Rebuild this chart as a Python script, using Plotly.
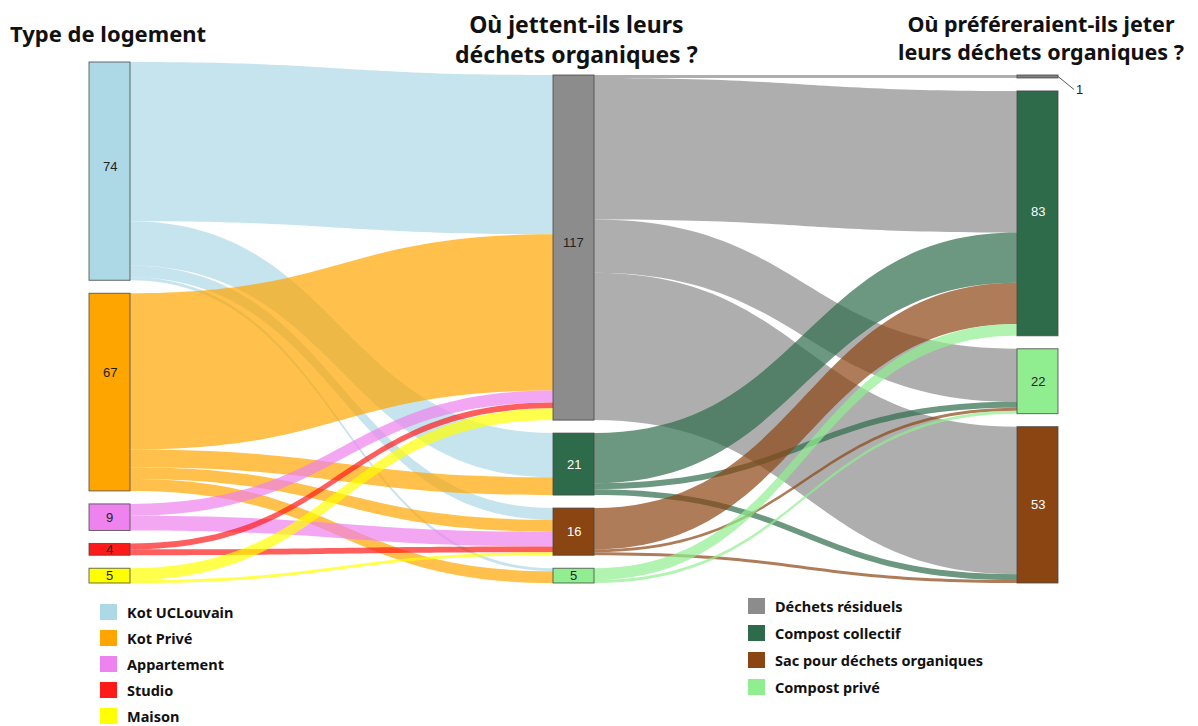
import plotly.graph_objects as go

# ---------------- data ----------------
housing = ["Kot UCLouvain", "Kot Privé", "Appartement", "Studio", "Maison"]
housing_colors = ["#ADD8E6", "#FFA500", "#EE82EE", "#FF1A1A", "#FFFF00"]

current = ["Déchets résiduels", "Compost collectif", "Sac pour déchets organiques", "Compost privé"]
preferred = ["Déchets résiduels", "Compost collectif", "Compost privé", "Sac pour déchets organiques"]
waste_colors = {
    "Déchets résiduels": "#8C8C8C",
    "Compost collectif": "#2E6B4A",
    "Sac pour déchets organiques": "#8B4513",
    "Compost privé": "#90EE90",
}

# housing -> current destination
flow_housing = [
    ("Kot UCLouvain", "Déchets résiduels", 54),
    ("Kot UCLouvain", "Compost collectif", 15),
    ("Kot UCLouvain", "Sac pour déchets organiques", 4),
    ("Kot UCLouvain", "Compost privé", 1),
    ("Kot Privé", "Déchets résiduels", 53),
    ("Kot Privé", "Compost collectif", 6),
    ("Kot Privé", "Sac pour déchets organiques", 4),
    ("Kot Privé", "Compost privé", 4),
    ("Appartement", "Déchets résiduels", 4),
    ("Appartement", "Sac pour déchets organiques", 5),
    ("Studio", "Déchets résiduels", 2),
    ("Studio", "Sac pour déchets organiques", 2),
    ("Maison", "Déchets résiduels", 4),
    ("Maison", "Sac pour déchets organiques", 1),
]
# current -> preferred destination
flow_pref = [
    ("Déchets résiduels", "Déchets résiduels", 1),
    ("Déchets résiduels", "Compost collectif", 48),
    ("Déchets résiduels", "Compost privé", 18),
    ("Déchets résiduels", "Sac pour déchets organiques", 50),
    ("Compost collectif", "Compost collectif", 17),
    ("Compost collectif", "Compost privé", 2),
    ("Compost collectif", "Sac pour déchets organiques", 2),
    ("Sac pour déchets organiques", "Compost collectif", 14),
    ("Sac pour déchets organiques", "Compost privé", 1),
    ("Sac pour déchets organiques", "Sac pour déchets organiques", 1),
    ("Compost privé", "Compost collectif", 4),
    ("Compost privé", "Compost privé", 1),
]

legend_housing = housing
legend_waste = ["Déchets résiduels", "Compost collectif", "Sac pour déchets organiques", "Compost privé"]

# ---------------- geometry / style ----------------
OFF = 8                      # default page body margin
W_FIG, H_FIG = 1198 - OFF, 726 - OFF
M_L, M_T = 89 - OFF, 62 - OFF
PW, PH = 969, 521
M_R = W_FIG - M_L - PW
M_B = H_FIG - M_T - PH
THICK = 41
PAD = 13


def rgba(hex_color, a):
    h = hex_color.lstrip("#")
    r, g, b = int(h[0:2], 16), int(h[2:4], 16), int(h[4:6], 16)
    return f"rgba({r},{g},{b},{a})"


def px_x(px):  # page pixel -> paper
    return (px - OFF - M_L) / PW


def px_y(py):
    return 1 - (py - OFF - M_T) / PH


# nodes
labels = housing + current + preferred
ncol = [len(housing), len(current), len(preferred)]
node_colors = housing_colors + [waste_colors[c] for c in current] + [
    "#7F7F7F" if p == "Déchets résiduels" else waste_colors[p] for p in preferred
]
idx_h = {n: i for i, n in enumerate(housing)}
idx_c = {n: len(housing) + i for i, n in enumerate(current)}
idx_p = {n: len(housing) + len(current) + i for i, n in enumerate(preferred)}

src, tgt, val, lcol = [], [], [], []
for s, t, v in flow_housing:
    src.append(idx_h[s]); tgt.append(idx_c[t]); val.append(v)
    lcol.append(rgba(housing_colors[idx_h[s]], 0.7))
for s, t, v in flow_pref:
    src.append(idx_c[s]); tgt.append(idx_p[t]); val.append(v)
    lcol.append(rgba(waste_colors[s], 0.7))

out_tot = [0] * len(labels)
in_tot = [0] * len(labels)
for s, t, v in zip(src, tgt, val):
    out_tot[s] += v
    in_tot[t] += v
node_val = [max(a, b) for a, b in zip(out_tot, in_tot)]

total = sum(node_val[:len(housing)])
ky = (PH - (max(ncol) - 1) * PAD) / total

# positions: first column top-aligned, others bottom-aligned
cols = [list(range(0, ncol[0])),
        list(range(ncol[0], ncol[0] + ncol[1])),
        list(range(ncol[0] + ncol[1], sum(ncol)))]
xcent = [THICK / 2 / PW, 0.5, 1 - THICK / 2 / PW]
node_x = [0] * len(labels)
node_y = [0] * len(labels)
for ci, col in enumerate(cols):
    heights = [node_val[i] * ky for i in col]
    span = sum(heights) + (len(col) - 1) * PAD
    y = 0 if ci == 0 else PH - span
    for i, h in zip(col, heights):
        node_x[i] = xcent[ci]
        node_y[i] = (y + h / 2) / PH
        y += h + PAD

fig = go.Figure(go.Sankey(
    arrangement="fixed",
    domain=dict(x=[0, 1], y=[0, 1]),
    node=dict(
        label=["" for _ in labels],
        color=node_colors,
        x=node_x, y=node_y,
        pad=PAD, thickness=THICK,
        line=dict(color="rgba(70,70,70,0.8)", width=1),
        hoverinfo="none",
    ),
    link=dict(source=src, target=tgt, value=val, color=lcol, hoverinfo="none"),
))

annotations = []
dark_nodes = {"Compost collectif", "Sac pour déchets organiques"}
NF = "Liberation Sans, Arial"
label_shift = {0: 5, 1: 20, len(housing): 5, idx_p["Compost collectif"]: 2}
for i, lab in enumerate(labels):
    if i == idx_p["Déchets résiduels"]:
        continue
    fc = "white" if lab in dark_nodes and i >= len(housing) else "#222222"
    annotations.append(dict(
        x=node_x[i], y=1 - node_y[i], xref="paper", yref="paper",
        xanchor="center", yanchor="middle", yshift=label_shift.get(i, 0),
        text=str(node_val[i]), showarrow=False,
        font=dict(family=NF, size=13, color=fc),
    ))
# small node "1" with leader line
i1 = idx_p["Déchets résiduels"]
annotations.append(dict(
    x=1.0, y=1 - node_y[i1], xref="paper", yref="paper",
    text=str(node_val[i1]), showarrow=True, arrowhead=0, arrowwidth=1,
    arrowcolor="#555555", ax=16, ay=13, xanchor="left", yanchor="middle",
    font=dict(family=NF, size=13, color="#222222"),
))

TF = "Noto Sans, Open Sans, sans-serif"
titles = [
    ("<b>Type de logement</b>", 108, 33, 22),
    ("<b>Où jettent-ils leurs<br>déchets organiques ?</b>", 576, 39, 23),
    ("<b>Où préféreraient-ils jeter<br>leurs déchets organiques ?</b>", 1041, 37, 21.5),
]
for txt, x, y, s in titles:
    annotations.append(dict(
        x=px_x(x), y=px_y(y), xref="paper", yref="paper", text=txt,
        showarrow=False, xanchor="center", yanchor="middle", align="center",
        borderpad=0, font=dict(family=TF, size=s, color="#111111"),
    ))

shapes = []
for k, name in enumerate(legend_housing):
    cy = 612 + k * 26
    shapes.append(dict(type="rect", xref="paper", yref="paper",
                       x0=px_x(100), x1=px_x(117), y0=px_y(cy - 8), y1=px_y(cy + 8),
                       fillcolor=housing_colors[k], line=dict(width=0)))
    annotations.append(dict(x=px_x(126), y=px_y(cy), xref="paper", yref="paper",
                            text=f"<b>{name}</b>", showarrow=False, xanchor="left",
                            yanchor="middle", borderpad=0,
                            font=dict(family=TF, size=14.5, color="#111111")))
for k, name in enumerate(legend_waste):
    cy = 606 + k * 27
    shapes.append(dict(type="rect", xref="paper", yref="paper",
                       x0=px_x(748), x1=px_x(765), y0=px_y(cy - 8), y1=px_y(cy + 8),
                       fillcolor=waste_colors[name], line=dict(width=0)))
    annotations.append(dict(x=px_x(774), y=px_y(cy), xref="paper", yref="paper",
                            text=f"<b>{name}</b>", showarrow=False, xanchor="left",
                            yanchor="middle", borderpad=0,
                            font=dict(family=TF, size=14.5, color="#111111")))

fig.update_layout(
    width=W_FIG, height=H_FIG,
    margin=dict(l=M_L, r=M_R, t=M_T, b=M_B),
    paper_bgcolor="white", plot_bgcolor="white",
    annotations=annotations, shapes=shapes,
)
fig.write_html("out.html")
